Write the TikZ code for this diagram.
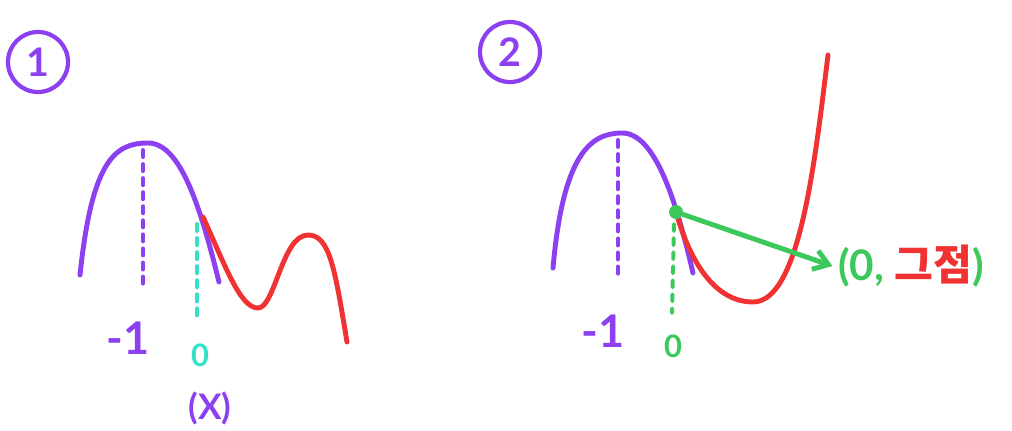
\documentclass[tikz,border=0pt]{standalone}
\usepackage{fontspec}
\setmainfont{Lato}
\newfontfamily\kr{Noto Sans CJK KR}
\usetikzlibrary{arrows.meta}
\definecolor{vio}{RGB}{140,64,240}
\definecolor{rd}{RGB}{240,50,50}
\definecolor{grn}{RGB}{60,200,90}
\definecolor{cyn}{RGB}{50,225,200}
\tikzset{
  curve/.style={line width=3.5pt,line cap=round},
  guide/.style={line width=2.8pt,line cap=round,dash pattern=on 5pt off 5pt},
  numcircle/.style={draw=vio,circle,line width=3pt,minimum size=1.5cm,text=vio,font=\fontsize{28}{28}\selectfont\bfseries},
}
\begin{document}
\begin{tikzpicture}[x=0.025cm,y=-0.025cm, every node/.style={inner sep=1pt}]
\useasboundingbox (0,0) rectangle (1012,430);
% panel 1
\node[numcircle] (c1) at (38,62) {1};
\draw[curve,vio] (80,275) .. controls (92,160) and (115,143) .. (148,143)
  .. controls (180,143) and (200,205) .. (219,282);
\draw[guide,vio] (143,150) -- (143,288);
\draw[guide,cyn] (197,224) -- (197,322);
\draw[curve,rd] (203,217) .. controls (225,265) and (240,308) .. (258,308)
  .. controls (275,308) and (282,235) .. (308,235)
  .. controls (330,235) and (335,270) .. (347,342);
\node[text=vio,font=\fontsize{32}{32}\selectfont\bfseries] (m1) at (128,338) {-1};
\node[text=cyn,font=\fontsize{22}{22}\selectfont\bfseries] (z1) at (200,355) {0};
\node[text=vio,font=\fontsize{25}{25}\selectfont\bfseries] (x1) at (210,408) {(X)};
% panel 2
\node[numcircle] (c2) at (510,52) {2};
\draw[curve,vio] (553,268) .. controls (563,155) and (590,133) .. (622,133)
  .. controls (655,133) and (676,200) .. (693,273);
\draw[guide,vio] (618,140) -- (618,278);
\draw[guide,grn] (674,224) -- (672,313);
\draw[curve,rd] (676,212) .. controls (690,262) and (715,302) .. (753,302)
  .. controls (800,302) and (815,160) .. (828,55);
\node[text=vio,font=\fontsize{32}{32}\selectfont\bfseries] (m2) at (603,331) {-1};
\node[text=grn,font=\fontsize{22}{22}\selectfont\bfseries] (z2) at (673,346) {0};
\node[fill=grn,circle,minimum size=0.35cm,inner sep=0pt] (dot) at (676,212) {};
\node[font=\fontsize{30}{30}\selectfont\bfseries,inner sep=4pt] (lbl) at (911,266) {\color{grn}(0,~{\kr\bfseries\color{rd}그점}\color{grn})};
\draw[curve,grn,-{Straight Barb[length=10pt,width=14pt]}] (dot) -- (lbl.west);
\end{tikzpicture}
\end{document}
